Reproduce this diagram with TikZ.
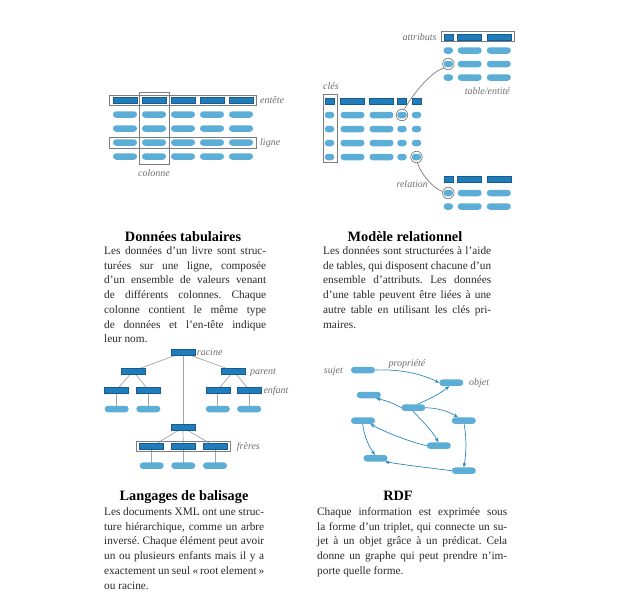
\documentclass[tikz,border=0pt]{standalone}
\usepackage{fontspec}
\setmainfont{Liberation Serif}
\usetikzlibrary{arrows.meta,backgrounds}
\frenchspacing
\definecolor{dkfill}{RGB}{33,125,186}
\definecolor{dkline}{RGB}{22,92,145}
\definecolor{ltfill}{RGB}{92,174,214}
\definecolor{arr}{RGB}{45,135,195}
\definecolor{boxgray}{RGB}{125,125,125}
\definecolor{lblgray}{RGB}{110,110,110}
\definecolor{linegray}{RGB}{165,165,165}
\definecolor{txt}{RGB}{40,40,40}
\tikzset{
 hd/.style={rectangle, fill=dkfill, draw=dkline, line width=0.5pt, minimum width=24pt, minimum height=5.8pt, inner sep=0pt, outer sep=0pt},
 hds/.style={hd, minimum width=9pt},
 cl/.style={rectangle, rounded corners=3.2pt, fill=ltfill, minimum width=24pt, minimum height=6.5pt, inner sep=0pt},
 cls/.style={cl, minimum width=9.5pt},
 gbox/.style={rectangle, draw=boxgray, line width=0.7pt, inner sep=0pt},
 ring/.style={circle, draw=boxgray, line width=0.7pt, minimum size=11.5pt, inner sep=0pt},
 lbl/.style={font=\fontsize{10}{12}\selectfont\itshape, text=lblgray, inner sep=0pt},
 ttl/.style={font=\fontsize{14.3}{17}\selectfont\bfseries, text=black, inner sep=0pt, anchor=base},
 body/.style={font=\fontsize{11.3}{14}\selectfont\frenchspacing, text=txt, inner sep=0pt, anchor=base west},
 tline/.style={draw=linegray, line width=0.7pt},
 rarr/.style={draw=arr, line width=0.7pt, -{Stealth[length=4.5pt,width=3.6pt]}},
}
\begin{document}
\begin{tikzpicture}[x=1pt,y=-1pt]
\useasboundingbox (0,0) rectangle (640,600);

% ---------- Tabular data ----------
\foreach \c [count=\i] in {125,154,183,212,241} {
  \node[hd] (th\i) at (\c,100.5) {};
  \foreach \r [count=\j] in {114.5,128.5,142.5,156.5}
    \node[cl] (tc\i\j) at (\c,\r) {};
}
\node[gbox, minimum width=146.7pt, minimum height=10pt] (hbox) at (182.7,100.4) {};
\node[gbox, minimum width=29.7pt, minimum height=72pt] (cbox) at (154.2,128.2) {};
\node[gbox, minimum width=146.7pt, minimum height=11pt] (lbox) at (182.7,142.5) {};
\node[lbl, anchor=base west] (lentete) at (260,103.5) {entête};
\node[lbl, anchor=base west] (lligne) at (260,145.5) {ligne};
\node[lbl, anchor=base] (lcol) at (154,176) {colonne};

% ---------- Relational model ----------
% main table
\foreach \r [count=\j] in {115,129,143,157} {
  \node[cls] (mk\j) at (329.5,\r) {};
  \node[cl] (ma\j) at (352.5,\r) {};
  \node[cl] (mb\j) at (381.5,\r) {};
  \node[cls] (mc\j) at (402,\r) {};
  \node[cls] (md\j) at (416.5,\r) {};
}
\node[hds] (mhk) at (329.5,101) {};
\node[hd] (mha) at (352.5,101) {};
\node[hd] (mhb) at (381.5,101) {};
\node[hds] (mhc) at (402,101) {};
\node[hds] (mhd) at (416.5,101) {};
\node[gbox, minimum width=14.4pt, minimum height=68.7pt] (kbox) at (330.5,128.3) {};
\node[lbl, anchor=base west] (lcles) at (323,89.5) {clés};
\node[ring] (r1) at (402,115) {};
\node[ring] (r2) at (416.5,157) {};
% top table
\node[hds] (thk) at (448.3,37) {};
\node[hd] (tha) at (469.7,37) {};
\node[hd] (thb) at (498.8,37) {};
\foreach \r [count=\j] in {50.5,64,77.5} {
  \node[cls] (tk\j) at (448.3,\r) {};
  \node[cl] (ta\j) at (469.7,\r) {};
  \node[cl] (tb\j) at (498.8,\r) {};
}
\node[gbox, minimum width=73pt, minimum height=10pt] (abox) at (477.5,36.7) {};
\node[lbl, anchor=base east] (lattr) at (436.7,40) {attributs};
\node[lbl, anchor=base east] (ltable) at (510,94.5) {table/entité};
\node[ring] (rt) at (448.3,64) {};
% bottom table
\node[hds] (bhk) at (448.3,179.5) {};
\node[hd] (bha) at (469.7,179.5) {};
\node[hd] (bhb) at (498.8,179.5) {};
\foreach \r [count=\j] in {193,206.5} {
  \node[cls] (bk\j) at (448.3,\r) {};
  \node[cl] (ba\j) at (469.7,\r) {};
  \node[cl] (bb\j) at (498.8,\r) {};
}
\node[ring] (rb) at (448.3,193) {};
\node[lbl, anchor=base east] (lrel) at (428,187) {relation};
\draw[draw=boxgray, line width=0.7pt] (r1.68) .. controls (411,97) and (430,72) .. (rt.222);
\draw[draw=boxgray, line width=0.7pt] (r2.-80) .. controls (420,172) and (432,188) .. (rb.165);

% ---------- Tree ----------
\node[hd] (racine) at (183,352.5) {};
\node[hd] (pL) at (133,371) {};
\node[hd] (pR) at (233.7,371) {};
\node[hd] (cLL) at (116.7,390) {};
\node[hd] (cLR) at (148.3,390) {};
\node[hd] (cRL) at (217.8,390) {};
\node[hd] (cRR) at (249.2,390) {};
\node[cl] (fLL) at (116.7,409) {};
\node[cl] (fLR) at (148.3,409) {};
\node[cl] (fRL) at (217.8,409) {};
\node[cl] (fRR) at (249.2,409) {};
\node[hd] (mid) at (183,427.5) {};
\node[hd] (s1) at (151.7,446.5) {};
\node[hd] (s2) at (183.3,446.5) {};
\node[hd] (s3) at (215,446.5) {};
\node[cl] (g1) at (151.7,465.7) {};
\node[cl] (g2) at (183.3,465.7) {};
\node[cl] (g3) at (215,465.7) {};
\node[gbox, minimum width=94.7pt, minimum height=10pt] (sbox) at (183.3,446.7) {};
\begin{scope}[on background layer]
\draw[tline] (racine.center) -- (pL.center);
\draw[tline] (racine.center) -- (pR.center);
\draw[tline] (racine.center) -- (mid.center);
\draw[tline] (pL.center) -- (cLL.center);
\draw[tline] (pL.center) -- (cLR.center);
\draw[tline] (pR.center) -- (cRL.center);
\draw[tline] (pR.center) -- (cRR.center);
\draw[tline] (cLL.center) -- (fLL.center);
\draw[tline] (cLR.center) -- (fLR.center);
\draw[tline] (cRL.center) -- (fRL.center);
\draw[tline] (cRR.center) -- (fRR.center);
\draw[tline] (mid.center) -- (s1.center);
\draw[tline] (mid.center) -- (s2.center);
\draw[tline] (mid.center) -- (s3.center);
\draw[tline] (s1.center) -- (g1.center);
\draw[tline] (s2.center) -- (g2.center);
\draw[tline] (s3.center) -- (g3.center);
\end{scope}
\node[lbl, anchor=base west] (lracine) at (196.7,355) {racine};
\node[lbl, anchor=base west] (lparent) at (250,374) {parent};
\node[lbl, anchor=base west] (lenfant) at (263.3,393) {enfant};
\node[lbl, anchor=base west] (lfreres) at (236.7,449) {frères};

% ---------- RDF ----------
\node[cl] (A) at (363,370) {};
\node[cl] (B) at (451.3,382.7) {};
\node[cl] (C) at (368.8,395) {};
\node[cl] (D) at (413.3,407.7) {};
\node[cl] (E) at (463.8,420.7) {};
\node[cl] (F) at (363,420.7) {};
\node[cl] (G) at (438.8,445.7) {};
\node[cl] (H) at (375.5,458.3) {};
\node[cl] (I) at (463.8,470.7) {};
\node[lbl, anchor=base east] (lsujet) at (343,373) {sujet};
\node[lbl, anchor=base west] (lobjet) at (469,385.5) {objet};
\node[lbl, anchor=base] (lprop) at (407,366) {propriété};
\draw[rarr] (A.east) .. controls (400,369) and (422,374) .. (B.west);
\draw[rarr] (D.40) .. controls (430,399) and (441,393) .. (B.-120);
\draw[rarr] (D.west) .. controls (395,404) and (388,401) .. (C.-25);
\draw[rarr] (D.east) .. controls (437,408) and (448,411) .. (E.150);
\draw[rarr] (D.-95) .. controls (421,420) and (432,430) .. (G.100);
\draw[rarr] (G.west) .. controls (410,442) and (385,432) .. (F.-25);
\draw[rarr] (F.-95) .. controls (364,435) and (368,445) .. (H.100);
\draw[rarr] (E.-85) .. controls (467,440) and (466,455) .. (I.north);
\draw[rarr] (I.west) .. controls (430,468) and (405,465) .. (H.-20);

% ---------- Titles ----------
\node[ttl] (t1) at (183,241) {Données tabulaires};
\node[ttl] (t2) at (405,241) {Modèle relationnel};
\node[ttl] (t3) at (184,500) {Langages de balisage};
\node[ttl] (t4) at (398,500) {RDF};

% ---------- Body texts ----------
\node[body] (a1) at (104,254.5) {\makebox[162pt][s]{Les données d’un livre sont struc-}};
\node[body] (a2) at (104,269.2) {\makebox[162pt][s]{turées sur une ligne, composée}};
\node[body] (a3) at (104,283.9) {\makebox[162pt][s]{d’un ensemble de valeurs venant}};
\node[body] (a4) at (104,298.6) {\makebox[162pt][s]{de différents colonnes. Chaque}};
\node[body] (a5) at (104,313.3) {\makebox[162pt][s]{colonne contient le même type}};
\node[body] (a6) at (104,328.0) {\makebox[162pt][s]{de données et l’en-tête indique}};
\node[body] (a7) at (104,342.7) {leur nom.};

\node[body] (b1) at (323,254.5) {\makebox[168pt][s]{Les données sont structurées à l’aide}};
\node[body] (b2) at (323,269.2) {\makebox[168pt][s]{de tables, qui disposent chacune d’un}};
\node[body] (b3) at (323,283.9) {\makebox[168pt][s]{ensemble d’attributs. Les données}};
\node[body] (b4) at (323,298.6) {\makebox[168pt][s]{d’une table peuvent être liées à une}};
\node[body] (b5) at (323,313.3) {\makebox[168pt][s]{autre table en utilisant les clés pri-}};
\node[body] (b6) at (323,328.0) {maires.};

\node[body] (c1) at (104,515.5) {\makebox[160pt][s]{Les documents XML ont une struc-}};
\node[body] (c2) at (104,530.2) {\makebox[160pt][s]{ture hiérarchique, comme un arbre}};
\node[body] (c3) at (104,544.9) {\makebox[160pt][s]{inversé. Chaque élément peut avoir}};
\node[body] (c4) at (104,559.6) {\makebox[160pt][s]{un ou plusieurs enfants mais il y a}};
\node[body] (c5) at (104,574.3) {\makebox[160pt][s]{exactement un seul «\,root element\,»}};
\node[body] (c6) at (104,589.0) {ou racine.};

\node[body] (d1) at (317,515.5) {\makebox[190pt][s]{Chaque information est exprimée sous}};
\node[body] (d2) at (317,530.2) {\makebox[190pt][s]{la forme d’un triplet, qui connecte un su-}};
\node[body] (d3) at (317,544.9) {\makebox[190pt][s]{jet à un objet grâce à un prédicat. Cela}};
\node[body] (d4) at (317,559.6) {\makebox[190pt][s]{donne un graphe qui peut prendre n’im-}};
\node[body] (d5) at (317,574.3) {porte quelle forme.};
\end{tikzpicture}
\end{document}
